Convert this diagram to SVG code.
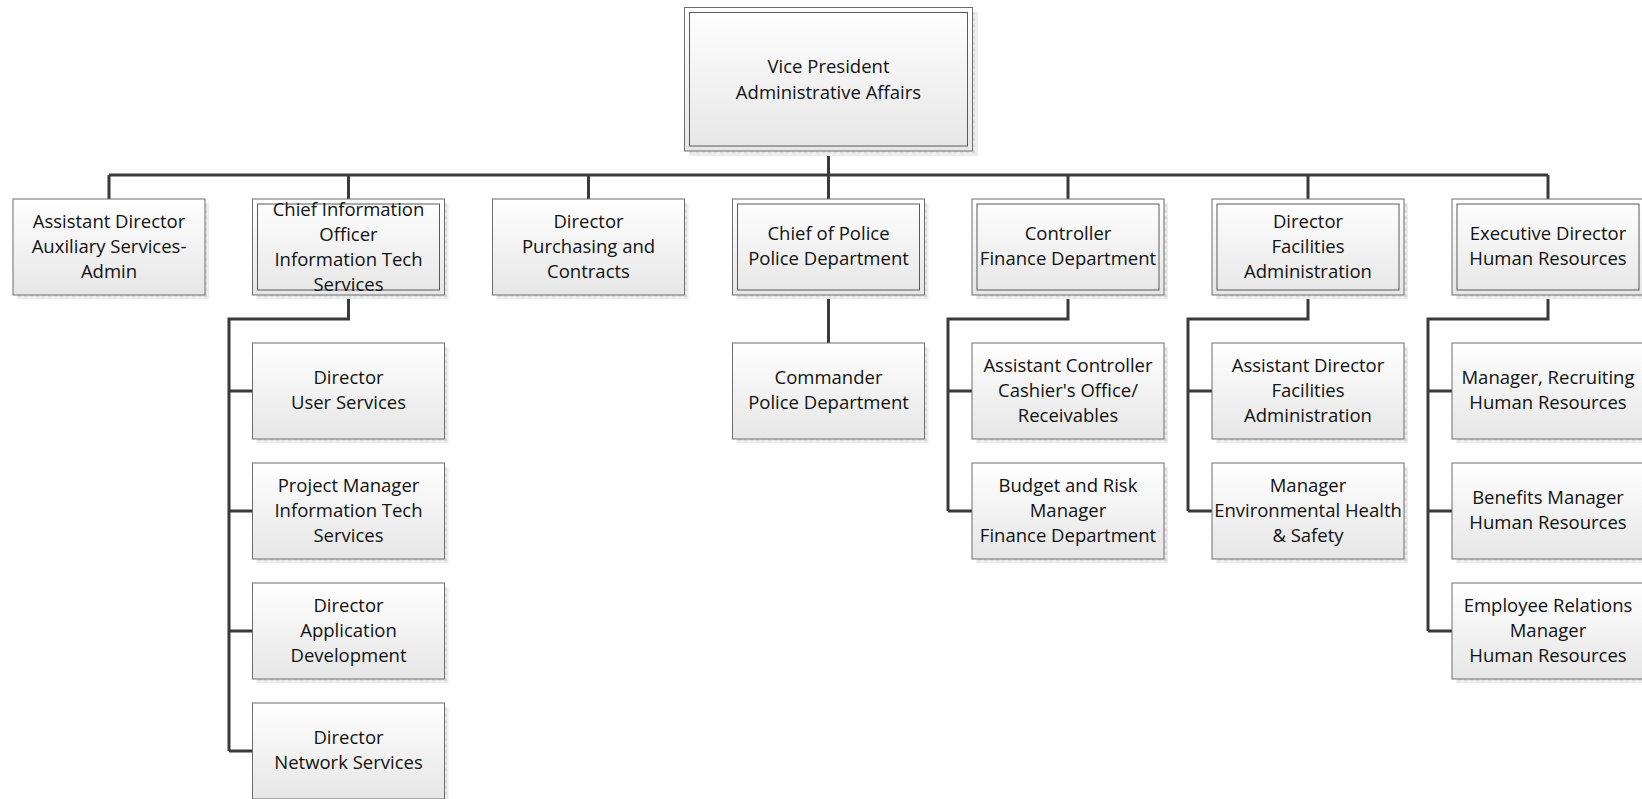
<svg xmlns="http://www.w3.org/2000/svg" width="1642" height="799" viewBox="0 0 1642 799">
<defs>
<linearGradient id="g" x1="0" y1="0" x2="0" y2="1">
<stop offset="0" stop-color="#ffffff"/>
<stop offset="1" stop-color="#e6e6e6"/>
</linearGradient>
<pattern id="sh" width="6" height="6" patternUnits="userSpaceOnUse">
<rect width="6" height="6" fill="#ececec"/>
<rect width="3" height="3" fill="#dcdcdc"/>
</pattern>
</defs>
<style>
.sh{fill:url(#sh)}
.bx{fill:url(#g);stroke:#6e6e6e;stroke-width:1}
.in{fill:none;stroke:#5a5a5a;stroke-width:1}
.c{fill:none;stroke:#3a3a3a;stroke-width:3}
text{font-family:"Open Sans","Liberation Sans",sans-serif;font-size:18.5px;fill:#111111;text-anchor:middle;dominant-baseline:central;transform:translate(0px,-2px)}
</style>
<rect width="1642" height="799" fill="#ffffff"/>
<g id="connectors">
<path class="c" d="M828.5 151V175M109 175H1548M109 175V199M348.5 175V199M588.5 175V199M828.5 175V199M1068 175V199M1308 175V199M1548 175V199"/>
<path class="c" d="M348.5 295V319H229V751M229 391H252.5M229 511H252.5M229 631H252.5M229 751H252.5"/>
<path class="c" d="M828.5 295V343"/>
<path class="c" d="M1068 295V319H948V511M948 391H972M948 511H972"/>
<path class="c" d="M1308 295V319H1188V511M1188 391H1212M1188 511H1212"/>
<path class="c" d="M1548 295V319H1428V631M1428 391H1452M1428 511H1452M1428 631H1452"/>
</g>
<g id="n0"><rect class="sh" x="689" y="12" width="289" height="144"/><rect class="bx" x="684.5" y="7.5" width="288" height="143.5"/><rect class="in" x="689.5" y="12.5" width="278" height="133.5"/><text x="828.5" y="67">Vice President</text><text x="828.5" y="93">Administrative Affairs</text></g>
<g id="n1"><rect class="sh" x="17" y="203" width="192" height="96"/><rect class="bx" x="13" y="199" width="192" height="96"/><text x="109" y="222">Assistant Director</text><text x="109" y="247">Auxiliary Services-</text><text x="109" y="272">Admin</text></g>
<g id="n2"><rect class="sh" x="256.5" y="203" width="192" height="96"/><rect class="bx" x="252.5" y="199" width="192" height="96"/><rect class="in" x="257.5" y="204" width="182" height="86"/><text x="348.5" y="210">Chief Information</text><text x="348.5" y="235">Officer</text><text x="348.5" y="260">Information Tech</text><text x="348.5" y="285">Services</text></g>
<g id="n3"><rect class="sh" x="496.5" y="203" width="192" height="96"/><rect class="bx" x="492.5" y="199" width="192" height="96"/><text x="588.5" y="222">Director</text><text x="588.5" y="247">Purchasing and</text><text x="588.5" y="272">Contracts</text></g>
<g id="n4"><rect class="sh" x="736.5" y="203" width="192" height="96"/><rect class="bx" x="732.5" y="199" width="192" height="96"/><rect class="in" x="737.5" y="204" width="182" height="86"/><text x="828.5" y="234.5">Chief of Police</text><text x="828.5" y="259.5">Police Department</text></g>
<g id="n5"><rect class="sh" x="976" y="203" width="192" height="96"/><rect class="bx" x="972" y="199" width="192" height="96"/><rect class="in" x="977" y="204" width="182" height="86"/><text x="1068" y="234.5">Controller</text><text x="1068" y="259.5">Finance Department</text></g>
<g id="n6"><rect class="sh" x="1216" y="203" width="192" height="96"/><rect class="bx" x="1212" y="199" width="192" height="96"/><rect class="in" x="1217" y="204" width="182" height="86"/><text x="1308" y="222">Director</text><text x="1308" y="247">Facilities</text><text x="1308" y="272">Administration</text></g>
<g id="n7"><rect class="sh" x="1456" y="203" width="192" height="96"/><rect class="bx" x="1452" y="199" width="192" height="96"/><rect class="in" x="1457" y="204" width="182" height="86"/><text x="1548" y="234.5">Executive Director</text><text x="1548" y="259.5">Human Resources</text></g>
<g id="n8"><rect class="sh" x="256.5" y="347" width="192" height="96"/><rect class="bx" x="252.5" y="343" width="192" height="96"/><text x="348.5" y="378.5">Director</text><text x="348.5" y="403.5">User Services</text></g>
<g id="n9"><rect class="sh" x="256.5" y="467" width="192" height="96"/><rect class="bx" x="252.5" y="463" width="192" height="96"/><text x="348.5" y="486">Project Manager</text><text x="348.5" y="511">Information Tech</text><text x="348.5" y="536">Services</text></g>
<g id="n10"><rect class="sh" x="256.5" y="587" width="192" height="96"/><rect class="bx" x="252.5" y="583" width="192" height="96"/><text x="348.5" y="606">Director</text><text x="348.5" y="631">Application</text><text x="348.5" y="656">Development</text></g>
<g id="n11"><rect class="sh" x="256.5" y="707" width="192" height="96"/><rect class="bx" x="252.5" y="703" width="192" height="96"/><text x="348.5" y="738.5">Director</text><text x="348.5" y="763.5">Network Services</text></g>
<g id="n12"><rect class="sh" x="736.5" y="347" width="192" height="96"/><rect class="bx" x="732.5" y="343" width="192" height="96"/><text x="828.5" y="378.5">Commander</text><text x="828.5" y="403.5">Police Department</text></g>
<g id="n13"><rect class="sh" x="976" y="347" width="192" height="96"/><rect class="bx" x="972" y="343" width="192" height="96"/><text x="1068" y="366">Assistant Controller</text><text x="1068" y="391">Cashier's Office/</text><text x="1068" y="416">Receivables</text></g>
<g id="n14"><rect class="sh" x="976" y="467" width="192" height="96"/><rect class="bx" x="972" y="463" width="192" height="96"/><text x="1068" y="486">Budget and Risk</text><text x="1068" y="511">Manager</text><text x="1068" y="536">Finance Department</text></g>
<g id="n15"><rect class="sh" x="1216" y="347" width="192" height="96"/><rect class="bx" x="1212" y="343" width="192" height="96"/><text x="1308" y="366">Assistant Director</text><text x="1308" y="391">Facilities</text><text x="1308" y="416">Administration</text></g>
<g id="n16"><rect class="sh" x="1216" y="467" width="192" height="96"/><rect class="bx" x="1212" y="463" width="192" height="96"/><text x="1308" y="486">Manager</text><text x="1308" y="511">Environmental Health</text><text x="1308" y="536">&amp; Safety</text></g>
<g id="n17"><rect class="sh" x="1456" y="347" width="192" height="96"/><rect class="bx" x="1452" y="343" width="192" height="96"/><text x="1548" y="378.5">Manager, Recruiting</text><text x="1548" y="403.5">Human Resources</text></g>
<g id="n18"><rect class="sh" x="1456" y="467" width="192" height="96"/><rect class="bx" x="1452" y="463" width="192" height="96"/><text x="1548" y="498.5">Benefits Manager</text><text x="1548" y="523.5">Human Resources</text></g>
<g id="n19"><rect class="sh" x="1456" y="587" width="192" height="96"/><rect class="bx" x="1452" y="583" width="192" height="96"/><text x="1548" y="606">Employee Relations</text><text x="1548" y="631">Manager</text><text x="1548" y="656">Human Resources</text></g>
</svg>
